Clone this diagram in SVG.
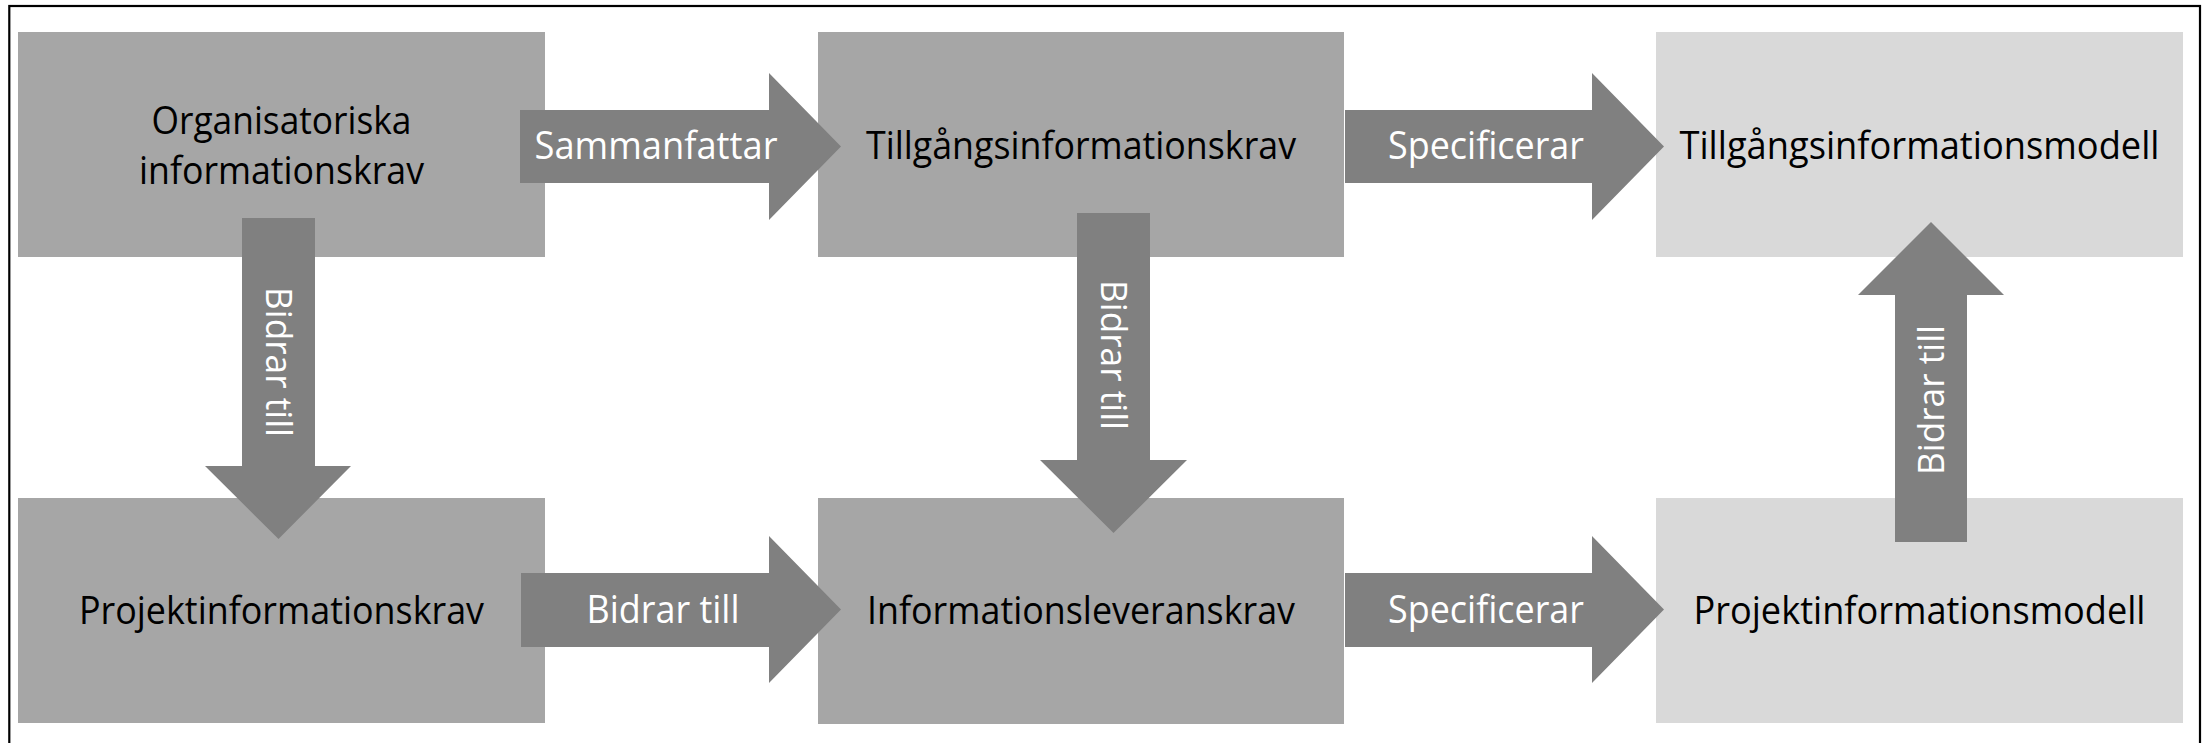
<svg xmlns="http://www.w3.org/2000/svg" width="2204" height="743" viewBox="0 0 2204 743">
  <style>
    .bg { fill: #ffffff; }
    .frame { fill: none; stroke: #000000; stroke-width: 2.2; }
    .box-dark { fill: #a6a6a6; }
    .box-light { fill: #d9d9d9; }
    .arrow { fill: #808080; }
    .ntext { font-family: "Open Sans", "Lato", "Liberation Sans", sans-serif; font-size: 39px; fill: #000000; text-anchor: middle; }
    .atext { font-family: "Open Sans", "Lato", "Liberation Sans", sans-serif; font-size: 39px; fill: #ffffff; text-anchor: middle; }
    .vtext { font-family: "Open Sans", "Liberation Sans", sans-serif; font-size: 37px; fill: #ffffff; text-anchor: middle; }
  </style>
  <rect class="bg" x="0" y="0" width="2204" height="743"/>
  <rect class="frame" x="9.3" y="6" width="2190.7" height="770"/>

  <g id="node-organisatoriska">
    <rect class="box-dark" x="18" y="32" width="527" height="225"/>
    <text class="ntext" x="281.5" y="134" textLength="260" lengthAdjust="spacingAndGlyphs">Organisatoriska</text>
    <text class="ntext" x="281.5" y="184" textLength="285" lengthAdjust="spacingAndGlyphs">informationskrav</text>
  </g>
  <g id="node-tillgangskrav">
    <rect class="box-dark" x="818" y="32" width="526" height="225"/>
    <text class="ntext" x="1081" y="159" textLength="430" lengthAdjust="spacingAndGlyphs">Tillgångsinformationskrav</text>
  </g>
  <g id="node-tillgangsmodell">
    <rect class="box-light" x="1656" y="32" width="527" height="225"/>
    <text class="ntext" x="1919.5" y="159" textLength="480" lengthAdjust="spacingAndGlyphs">Tillgångsinformationsmodell</text>
  </g>
  <g id="node-projektkrav">
    <rect class="box-dark" x="18" y="498" width="527" height="225"/>
    <text class="ntext" x="281.5" y="624" textLength="405" lengthAdjust="spacingAndGlyphs">Projektinformationskrav</text>
  </g>
  <g id="node-leveranskrav">
    <rect class="box-dark" x="818" y="498" width="526" height="226"/>
    <text class="ntext" x="1081" y="624" textLength="428" lengthAdjust="spacingAndGlyphs">Informationsleveranskrav</text>
  </g>
  <g id="node-projektmodell">
    <rect class="box-light" x="1656" y="498" width="527" height="225"/>
    <text class="ntext" x="1919.5" y="624" textLength="452" lengthAdjust="spacingAndGlyphs">Projektinformationsmodell</text>
  </g>

  <g id="connectors">
    <g id="c-sammanfattar">
      <polygon class="arrow" points="520,110 769,110 769,73 841,146.5 769,220 769,183 520,183"/>
      <text class="atext" x="656" y="159" textLength="243" lengthAdjust="spacingAndGlyphs">Sammanfattar</text>
    </g>
    <g id="c-specificerar-top">
      <polygon class="arrow" points="1345,110 1592,110 1592,73 1664,146.5 1592,220 1592,183 1345,183"/>
      <text class="atext" x="1486" y="159" textLength="196" lengthAdjust="spacingAndGlyphs">Specificerar</text>
    </g>
    <g id="c-bidrar-bottom">
      <polygon class="arrow" points="521,573 769,573 769,536 841,609.5 769,683 769,647 521,647"/>
      <text class="atext" x="663" y="623" textLength="153" lengthAdjust="spacingAndGlyphs">Bidrar till</text>
    </g>
    <g id="c-specificerar-bottom">
      <polygon class="arrow" points="1345,573 1592,573 1592,536 1664,609.5 1592,683 1592,647 1345,647"/>
      <text class="atext" x="1486" y="623" textLength="196" lengthAdjust="spacingAndGlyphs">Specificerar</text>
    </g>
    <g id="c-bidrar-down-1">
      <polygon class="arrow" points="242,218 315,218 315,466 351,466 278.5,539 205,466 242,466"/>
      <text class="vtext" transform="translate(278.5,362) rotate(90)" x="0" y="13" textLength="150" lengthAdjust="spacingAndGlyphs">Bidrar till</text>
    </g>
    <g id="c-bidrar-down-2">
      <polygon class="arrow" points="1077,213 1150,213 1150,460 1187,460 1113.5,533 1040,460 1077,460"/>
      <text class="vtext" transform="translate(1113.5,355) rotate(90)" x="0" y="13" textLength="150" lengthAdjust="spacingAndGlyphs">Bidrar till</text>
    </g>
    <g id="c-bidrar-up">
      <polygon class="arrow" points="1895,542 1895,295 1858,295 1931,222 2004,295 1967,295 1967,542"/>
      <text class="vtext" transform="translate(1931,400) rotate(-90)" x="0" y="13" textLength="150" lengthAdjust="spacingAndGlyphs">Bidrar till</text>
    </g>
  </g>
</svg>
